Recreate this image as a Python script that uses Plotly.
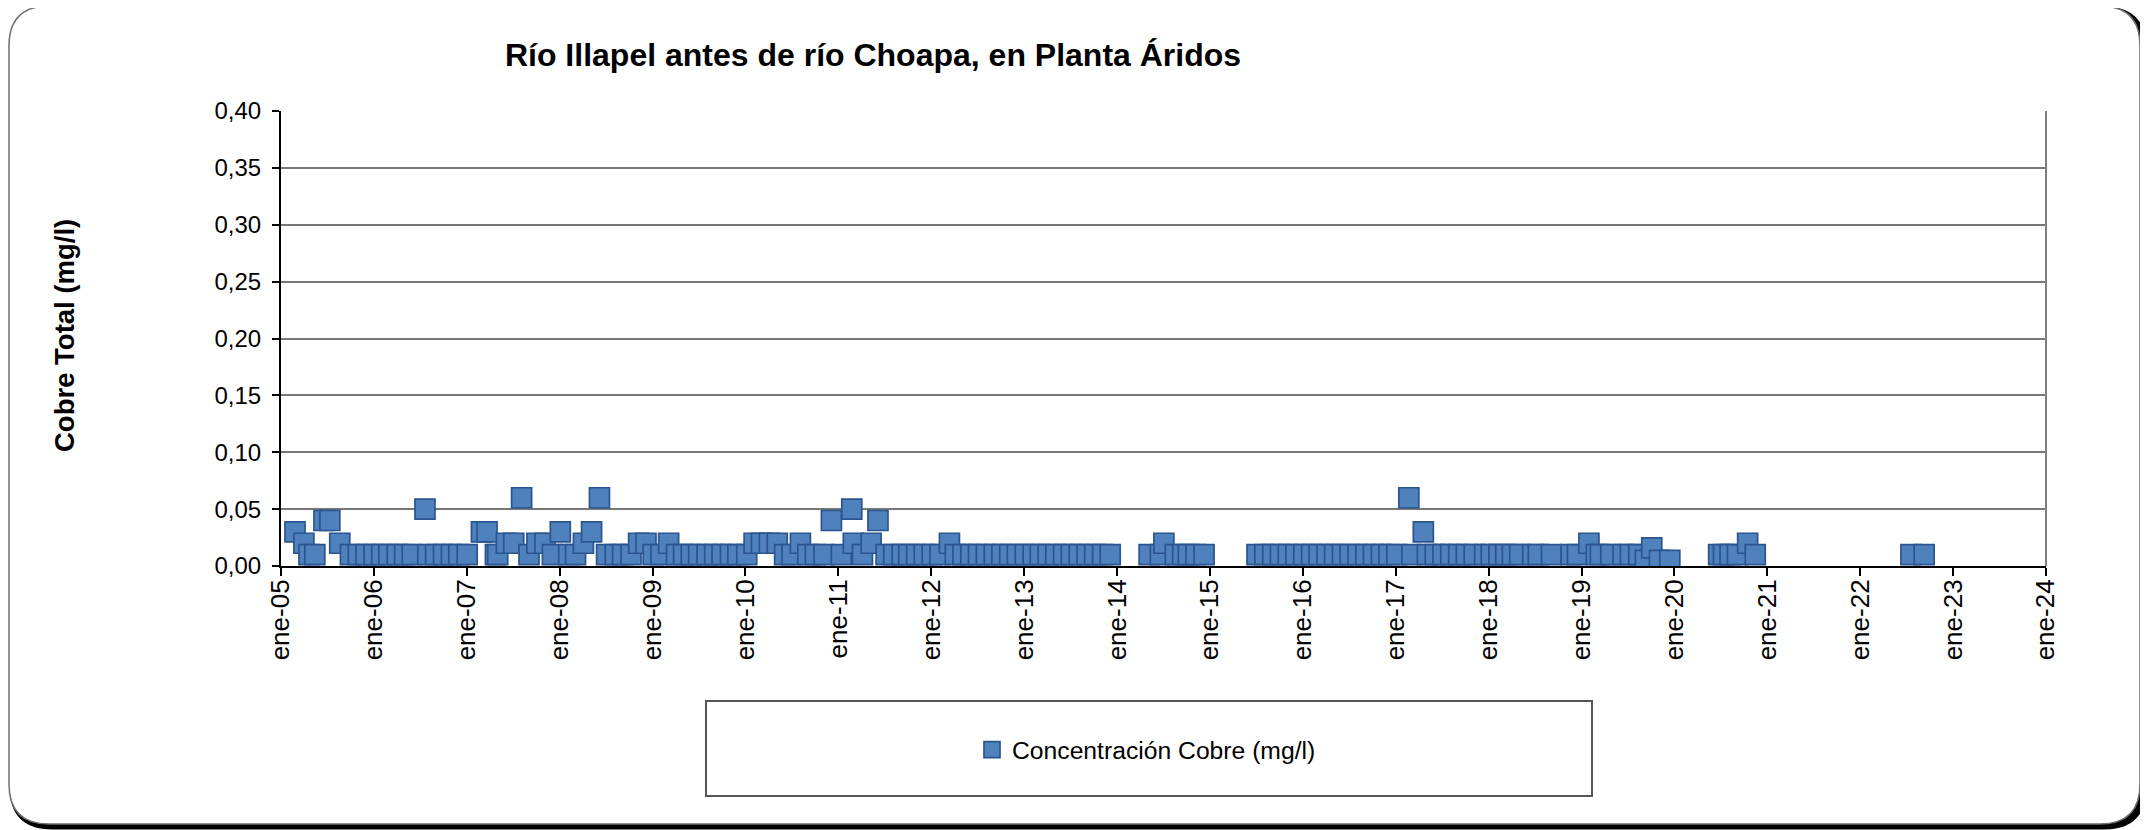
import plotly.graph_objects as go

# ---------------- data ----------------
fechas = [
    "2005-02-25", "2005-04-01", "2005-04-21", "2005-05-14", "2005-06-19", "2005-07-12", "2005-08-20",
    "2005-10-01", "2005-11-01", "2005-12-01",
    "2006-01-02", "2006-02-01", "2006-03-01", "2006-04-03", "2006-05-02", "2006-06-01", "2006-07-21",
    "2006-08-01", "2006-09-01", "2006-10-02", "2006-11-02", "2006-12-01",
    "2007-01-03", "2007-02-28", "2007-03-22", "2007-04-24", "2007-05-03", "2007-06-06", "2007-07-05",
    "2007-08-05", "2007-09-03", "2007-10-04", "2007-11-05", "2007-12-04",
    "2008-01-04", "2008-02-06", "2008-03-04", "2008-04-04", "2008-05-06", "2008-06-06", "2008-07-04",
    "2008-08-07", "2008-09-05", "2008-10-08", "2008-11-07", "2008-12-06",
    "2009-01-03", "2009-02-03", "2009-03-05", "2009-04-05", "2009-05-03", "2009-06-02", "2009-07-01",
    "2009-08-03", "2009-09-02", "2009-10-01", "2009-11-03", "2009-12-02",
    "2010-01-06", "2010-02-04", "2010-03-05", "2010-04-05", "2010-05-06", "2010-06-04", "2010-07-03",
    "2010-08-05", "2010-09-03", "2010-10-03", "2010-11-06", "2010-12-05",
    "2011-01-13", "2011-02-23", "2011-03-01", "2011-04-06", "2011-05-10", "2011-06-06", "2011-07-08",
    "2011-08-07", "2011-09-09", "2011-10-05", "2011-11-05", "2011-12-05",
    "2012-01-05", "2012-02-05", "2012-03-13", "2012-04-05", "2012-05-05", "2012-06-05", "2012-07-05",
    "2012-08-05", "2012-09-05", "2012-10-05", "2012-11-05", "2012-12-05",
    "2013-01-05", "2013-02-05", "2013-03-05", "2013-04-05", "2013-05-05", "2013-06-05", "2013-07-05",
    "2013-08-05", "2013-09-05", "2013-10-05", "2013-11-05", "2013-12-05",
    "2014-05-07", "2014-06-20", "2014-07-04", "2014-08-18", "2014-09-16", "2014-10-08", "2014-11-07",
    "2014-12-09",
    "2015-07-05", "2015-08-05", "2015-09-05", "2015-10-05", "2015-11-05", "2015-12-05",
    "2016-01-05", "2016-02-05", "2016-03-05", "2016-04-05", "2016-05-05", "2016-06-05", "2016-07-05",
    "2016-08-05", "2016-09-05", "2016-10-05", "2016-11-05", "2016-12-05",
    "2017-01-05", "2017-02-21", "2017-03-05", "2017-04-19", "2017-05-05", "2017-06-05", "2017-07-05",
    "2017-08-05", "2017-09-05", "2017-10-05", "2017-11-05", "2017-12-16",
    "2018-01-11", "2018-02-10", "2018-03-09", "2018-04-04", "2018-05-03", "2018-06-23", "2018-07-15",
    "2018-09-05", "2018-11-21", "2018-12-16",
    "2019-01-30", "2019-02-28", "2019-03-16", "2019-04-26", "2019-06-13", "2019-07-12", "2019-08-14",
    "2019-09-09", "2019-10-04", "2019-11-03", "2019-12-14",
    "2020-06-23", "2020-07-12", "2020-08-07", "2020-09-05", "2020-10-15", "2020-11-14",
    "2022-07-19", "2022-09-09",
]

cobre_mg_l = [
    0.03, 0.02, 0.01, 0.01, 0.04, 0.04, 0.02,
    0.01, 0.01, 0.01,
    0.01, 0.01, 0.01, 0.01, 0.01, 0.01, 0.05,
    0.01, 0.01, 0.01, 0.01, 0.01,
    0.01, 0.03, 0.03, 0.01, 0.01, 0.02, 0.02,
    0.06, 0.01, 0.02, 0.02, 0.01,
    0.03, 0.01, 0.01, 0.02, 0.03, 0.06, 0.01,
    0.01, 0.01, 0.01, 0.02, 0.02,
    0.01, 0.01, 0.02, 0.01, 0.01, 0.01, 0.01,
    0.01, 0.01, 0.01, 0.01, 0.01,
    0.01, 0.02, 0.02, 0.02, 0.02, 0.01, 0.01,
    0.02, 0.01, 0.01, 0.01, 0.04,
    0.01, 0.05, 0.02, 0.01, 0.02, 0.04, 0.01,
    0.01, 0.01, 0.01, 0.01, 0.01,
    0.01, 0.01, 0.02, 0.01, 0.01, 0.01, 0.01,
    0.01, 0.01, 0.01, 0.01, 0.01,
    0.01, 0.01, 0.01, 0.01, 0.01, 0.01, 0.01,
    0.01, 0.01, 0.01, 0.01, 0.01,
    0.01, 0.01, 0.02, 0.01, 0.01, 0.01, 0.01,
    0.01,
    0.01, 0.01, 0.01, 0.01, 0.01, 0.01,
    0.01, 0.01, 0.01, 0.01, 0.01, 0.01, 0.01,
    0.01, 0.01, 0.01, 0.01, 0.01,
    0.01, 0.06, 0.01, 0.03, 0.01, 0.01, 0.01,
    0.01, 0.01, 0.01, 0.01, 0.01,
    0.01, 0.01, 0.01, 0.01, 0.01, 0.01, 0.01,
    0.01, 0.01, 0.01,
    0.02, 0.01, 0.01, 0.01, 0.01, 0.01, 0.01,
    0.005, 0.016, 0.005, 0.005,
    0.01, 0.01, 0.01, 0.01, 0.02, 0.01,
    0.01, 0.01,
]

x_tick_dates = ["2005-01-01", "2006-01-01", "2007-01-01", "2008-01-01", "2009-01-01",
                "2010-01-01", "2011-01-01", "2012-01-01", "2013-01-01", "2014-01-01",
                "2015-01-01", "2016-01-01", "2017-01-01", "2018-01-01", "2019-01-01",
                "2020-01-01", "2021-01-01", "2022-01-01", "2023-01-01", "2024-01-01"]
x_tick_labels = ["ene-05", "ene-06", "ene-07", "ene-08", "ene-09", "ene-10", "ene-11",
                 "ene-12", "ene-13", "ene-14", "ene-15", "ene-16", "ene-17", "ene-18",
                 "ene-19", "ene-20", "ene-21", "ene-22", "ene-23", "ene-24"]
y_tick_vals = [0.00, 0.05, 0.10, 0.15, 0.20, 0.25, 0.30, 0.35, 0.40]

titulo = "Río Illapel antes de río Choapa, en Planta Áridos"
titulo_y = "Cobre Total (mg/l)"
serie = "Concentración Cobre (mg/l)"

# ---------------- layout geometry (pixels of the 2148x830 page) ----------------
OFF = 8                      # the page body margin shifts the figure by 8 px
PAGE_W, PAGE_H = 2148, 830
W, H = PAGE_W - OFF, PAGE_H - OFF
L, R, T, B = 281, 2046, 111, 566   # plot area on the page
FONT = "Liberation Sans, Arial, Helvetica, sans-serif"


def pxx(v):
    return (v - L) / (R - L)


def pxy(v):
    return (B - v) / (B - T)


def rounded_rect(x0, y0, x1, y1, r):
    pts = [
        ("M", [(x0 + r, y0)]),
        ("L", [(x1 - r, y0)]),
        ("Q", [(x1, y0), (x1, y0 + r)]),
        ("L", [(x1, y1 - r)]),
        ("Q", [(x1, y1), (x1 - r, y1)]),
        ("L", [(x0 + r, y1)]),
        ("Q", [(x0, y1), (x0, y1 - r)]),
        ("L", [(x0, y0 + r)]),
        ("Q", [(x0, y0), (x0 + r, y0)]),
    ]
    s = ""
    for cmd, ps in pts:
        s += cmd + " " + " ".join(f"{pxx(a):.5f},{pxy(b):.5f}" for a, b in ps) + " "
    return s + "Z"


fig = go.Figure()
fig.add_trace(go.Scatter(
    x=fechas, y=cobre_mg_l, mode="markers", name=serie,
    marker=dict(symbol="square", size=20, color="#4F81BD",
                line=dict(color="#2A5590", width=1.7)),
))

shapes = [
    # shadow of outer rounded frame
    dict(type="path", xref="paper", yref="paper", layer="below",
         path=rounded_rect(12, 9, 2144, 827, 40),
         line=dict(color="black", width=5), fillcolor="black"),
    # outer rounded frame
    dict(type="path", xref="paper", yref="paper", layer="below",
         path=rounded_rect(9, 6, 2140, 824, 40),
         line=dict(color="#6e6e6e", width=1.5), fillcolor="white"),
    # right border of plot area
    dict(type="line", xref="paper", yref="paper", x0=1, x1=1, y0=0, y1=1,
         line=dict(color="#808080", width=2)),
    # legend box
    dict(type="rect", xref="paper", yref="paper",
         x0=pxx(706), x1=pxx(1592), y0=pxy(796), y1=pxy(701),
         line=dict(color="#555555", width=2), fillcolor="rgba(0,0,0,0)"),
]

fig.update_layout(
    width=W, height=H,
    margin=dict(l=L - OFF, r=PAGE_W - R, t=T - OFF, b=PAGE_H - B, pad=0),
    paper_bgcolor="white", plot_bgcolor="rgba(0,0,0,0)",
    separators=",.",
    font=dict(family=FONT, color="black", size=22),
    title=dict(text=f"<b>{titulo}</b>", x=(873 - OFF) / W, xanchor="center",
               y=1 - (55 - OFF) / H, yanchor="middle",
               font=dict(size=32, family=FONT, color="black")),
    showlegend=True,
    legend=dict(x=pxx(972), y=pxy(750), xanchor="left", yanchor="middle",
                bgcolor="rgba(0,0,0,0)", borderwidth=0, font=dict(size=24.7)),
    shapes=shapes,
    annotations=[dict(text=f"<b>{titulo_y}</b>", xref="paper", yref="paper",
                      x=pxx(64), y=pxy(336), textangle=-90, showarrow=False,
                      xanchor="center", yanchor="middle",
                      font=dict(size=27.5, family=FONT, color="black"))],
    xaxis=dict(type="date", range=["2005-01-01", "2024-01-01"],
               tickmode="array", tickvals=x_tick_dates, ticktext=x_tick_labels,
               tickangle=-90, ticks="outside", ticklen=8, tickwidth=1.5, tickcolor="black",
               ticklabelstandoff=-7,
               showline=True, linecolor="black", linewidth=2, showgrid=False, zeroline=False,
               tickfont=dict(size=26)),
    yaxis=dict(range=[0, 0.4], tickmode="array", tickvals=y_tick_vals, tickformat=".2f",
               ticks="outside", ticklen=7, tickwidth=1.5, tickcolor="black",
               ticklabelstandoff=6,
               showline=True, linecolor="black", linewidth=2,
               showgrid=True, gridcolor="#777777", gridwidth=1.8, zeroline=False,
               tickfont=dict(size=24)),
)

fig.write_html("out.html")
